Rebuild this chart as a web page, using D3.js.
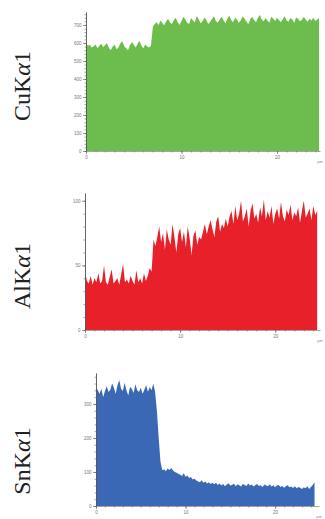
<!DOCTYPE html>
<html><head><meta charset="utf-8">
<script src="https://cdn.jsdelivr.net/npm/d3@7"></script>
<style>body{margin:0;background:#fff}svg{display:block}</style>
</head><body>
<svg id="c" width="325" height="519"></svg>
<script>
// Sampling step along the line scan (µm)
const stepUm = 0.2;
const seriesNames = ["Cu", "Al", "Sn"];
const cuCounts = [600,585,590,575,580,592,570,585,595,578,588,600,572,560,580,590,565,575,598,610,582,570,560,588,605,590,575,596,612,585,570,592,580,575,585,
690,705,715,700,725,710,698,720,735,712,705,728,740,715,700,722,745,730,712,705,738,725,715,750,732,710,720,742,728,705,718,735,748,722,712,730,745,725,710,735,752,728,715,740,730,712,725,748,735,718,705,732,745,728,715,740,755,730,720,738,725,712,745,735,722,740,728,715,732,748,725,718,738,730,712,742,735,720,728,745,730,718,735,725,740,722,730,738];
const alCounts = [45,38,36,42,35,40,37,44,36,38,50,37,35,41,47,36,38,40,35,43,51,37,39,36,42,38,35,46,37,40,36,44,38,42,48,45,
70,65,72,80,68,75,62,78,70,66,82,72,60,74,79,68,76,64,80,71,58,73,77,66,72,
70,76,82,74,80,85,78,72,84,88,76,82,79,86,80,
88,92,82,96,85,90,100,84,88,94,80,92,98,86,90,83,95,88,101,85,92,87,96,82,90,94,86,99,88,84,93,89,97,85,91,88,95,83,92,100,87,90,94,85,96,89,92];
const snCounts = [350,340,330,345,320,338,352,335,342,360,348,330,355,370,345,338,362,340,325,350,345,332,358,340,335,348,330,342,355,336,350,340,360,
335,280,200,130,105,108,102,110,106,112,104,100,98,
95,92,88,96,86,90,82,85,78,80,
75,72,70,76,68,72,66,70,65,68,
64,68,62,66,60,65,58,63,67,60,62,66,58,64,61,57,65,62,59,66,60,63,57,62,65,59,61,56,63,60,58,64,57,61,55,60,62,56,59,54,58,61,55,57,53,58,52,56,54,50,55,52,58,50,56,62,70];
const xTickLabels = [0, 10, 20];
const cuYTicks = [0,100,200,300,400,500,600,700];
const alYTicks = [0,50,100];
const snYTicks = [0,100,200,300];

const panels = [
  {label:"CuK", data:cuCounts, yTicks:cuYTicks, yMax:772, minor:20, color:"#6cbd4e",
   x0:86, x1:320, xMax:24.5, yBottom:151, yTop:12, labelY:86},
  {label:"AlK", data:alCounts, yTicks:alYTicks, yMax:106, minor:10, color:"#e8202a",
   x0:85, x1:320, xMax:24.7, yBottom:330, yTop:193, labelY:276},
  {label:"SnK", data:snCounts, yTicks:snYTicks, yMax:391, minor:20, color:"#3a68b4",
   x0:96, x1:319, xMax:24.9, yBottom:506, yTop:373, labelY:461}
];

const svg = d3.select("#c");
panels.forEach(p => {
  const x = d3.scaleLinear().domain([0, p.xMax]).range([p.x0, p.x1]);
  const y = d3.scaleLinear().domain([0, p.yMax]).range([p.yBottom, p.yTop]);
  const g = svg.append("g");
  const pts = p.data.map((v,i) => [i*stepUm, v]).filter(d => d[0] <= p.xMax);
  g.append("path").datum(pts)
    .attr("fill", p.color)
    .attr("d", d3.area().x(d=>x(d[0])).y0(y(0)).y1(d=>y(d[1])));

  // y axis minor ticks
  const yMinor = d3.range(0, p.yMax, p.minor);
  g.append("g").attr("transform",`translate(${p.x0},0)`)
    .call(d3.axisLeft(y).tickValues(yMinor).tickSize(1.5).tickFormat("").tickSizeOuter(0))
    .call(a=>a.selectAll("line,path").attr("stroke","#666").attr("stroke-width",0.6));
  g.append("g").attr("transform",`translate(${p.x0},0)`)
    .call(d3.axisLeft(y).tickValues(p.yTicks).tickSize(3).tickPadding(1.5).tickSizeOuter(0))
    .call(a=>a.select(".domain").attr("stroke","#555").attr("stroke-width",0.8))
    .call(a=>a.selectAll(".tick line").attr("stroke","#555").attr("stroke-width",0.6))
    .call(a=>a.selectAll("text").attr("font-size","4.5px").attr("fill","#777").attr("font-family","Liberation Sans"));

  // x axis
  const xMinor = d3.range(0, p.xMax, 1);
  g.append("g").attr("transform",`translate(0,${p.yBottom})`)
    .call(d3.axisBottom(x).tickValues(xMinor).tickSize(1.5).tickFormat("").tickSizeOuter(0))
    .call(a=>a.selectAll("line,path").attr("stroke","#666").attr("stroke-width",0.6));
  g.append("g").attr("transform",`translate(0,${p.yBottom})`)
    .call(d3.axisBottom(x).tickValues(xTickLabels).tickSize(3).tickPadding(1.5).tickSizeOuter(0))
    .call(a=>a.select(".domain").remove())
    .call(a=>a.selectAll(".tick line").attr("stroke","#555").attr("stroke-width",0.6))
    .call(a=>a.selectAll("text").attr("font-size","4.5px").attr("fill","#777").attr("font-family","Liberation Sans"));
  g.append("text").attr("x", p.x1).attr("y", p.yBottom+12)
    .attr("font-size","4px").attr("fill","#888").attr("font-family","Liberation Sans")
    .attr("text-anchor","middle").text("µm");

  // panel label
  const t = g.append("text")
    .attr("transform",`translate(30,${p.labelY}) rotate(-90)`)
    .attr("text-anchor","middle")
    .attr("font-family","Liberation Serif").attr("font-size","24px").attr("fill","#222");
  t.append("tspan").text(p.label);
  t.append("tspan").attr("font-style","italic").text("α");
  t.append("tspan").text("1");
});
</script>
</body></html>
